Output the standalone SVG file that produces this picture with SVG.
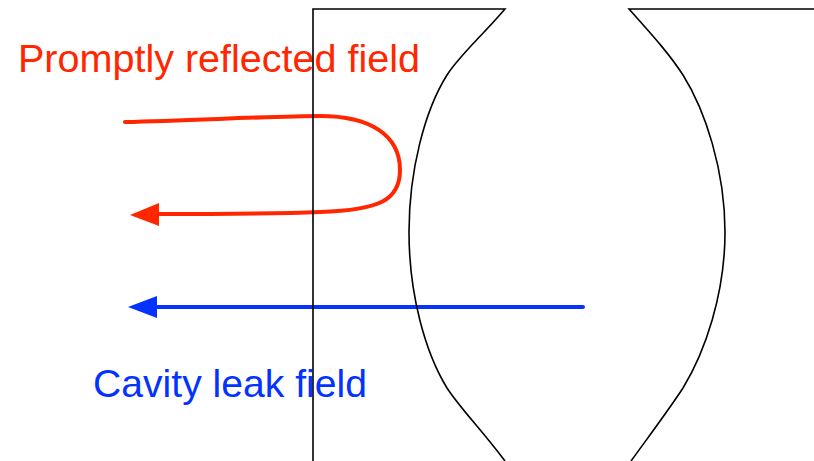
<svg xmlns="http://www.w3.org/2000/svg" width="814" height="461" viewBox="0 0 814 461">
  <style>
    .mirror { fill: none; stroke: #000; stroke-width: 1.6; stroke-linejoin: miter; }
    .lbl { font-family: "Liberation Sans", Arial, Helvetica, sans-serif; font-size: 39px; }
    .red { stroke: #FF2600; }
    .blue { stroke: #0433FF; }
    .wire { fill: none; stroke-width: 4; stroke-linecap: round; }
  </style>
  <g id="labels">
    <text class="lbl" x="18" y="72" fill="#FF2600" textLength="402" lengthAdjust="spacingAndGlyphs">Promptly reflected field</text>
    <text class="lbl" x="93" y="397" fill="#0433FF" textLength="274" lengthAdjust="spacingAndGlyphs">Cavity leak field</text>
  </g>
  <g id="connectors">
    <path class="wire red" d="M125,122 C200,120 280,116 320,116 C370,116 400,135 400,170 C400,200 380,210 320,212 C270,214 200,214 157,214"/>
    <polygon points="130,215 159,203 159,226" fill="#FF2600"/>
    <path class="wire blue" d="M583,307 L155,307"/>
    <polygon points="128,307 157,296 157,318" fill="#0433FF"/>
  </g>
  <g id="mirror-left">
    <path class="mirror" d="M313,461 L313,9 L505,9 C480,38 460,55 447,75 C425,110 409,170 409,232 C409,294 425,352 447,388 C460,408 480,428 505,461"/>
  </g>
  <g id="mirror-right">
    <path class="mirror" d="M814,9 L629,9 C655,38 670,55 683,75 C705,110 725,170 725,232 C725,294 705,352 683,388 C670,408 655,428 631,461"/>
  </g>
</svg>
